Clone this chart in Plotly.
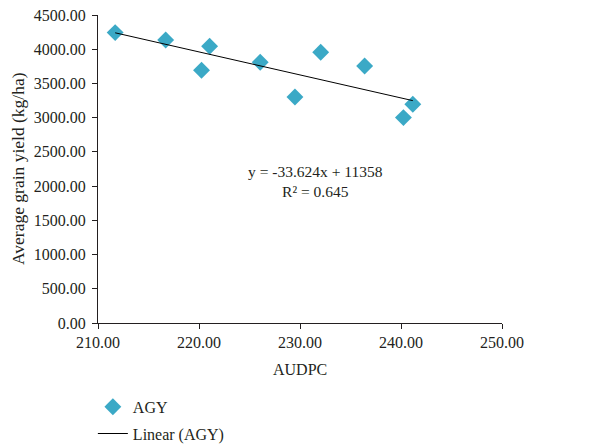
import numpy as np
import plotly.graph_objects as go

# Data
audpc = [211.7, 216.7, 220.25, 221.05, 226.06, 229.5, 232.05, 236.4, 240.24, 241.17]
agy = [4243, 4135, 3692, 4043, 3809, 3302, 3955, 3755, 3001, 3195]

slope = -33.624
intercept = 11358
r2 = 0.645

x_ticks = [210, 220, 230, 240, 250]
y_ticks = [0, 500, 1000, 1500, 2000, 2500, 3000, 3500, 4000, 4500]

FONT = "Liberation Serif"
TXT = "#231f20"

xl = [min(audpc), max(audpc)]
yl = [slope * v + intercept for v in xl]

fig = go.Figure()
fig.add_trace(go.Scatter(
    x=audpc, y=agy, mode="markers", name="AGY", legendgroup="a",
    marker=dict(symbol="diamond", size=13, color="#3ba9c6", line=dict(width=0)),
))
fig.add_trace(go.Scatter(
    x=xl, y=yl, mode="lines", name="Linear (AGY)", legendgroup="b",
    line=dict(color="black", width=1),
))

fig.add_annotation(
    x=231.5, y=2070, xref="x", yref="y",
    text=f"y = {slope}x + {intercept}<br>R² = {r2}",
    showarrow=False, align="center",
    font=dict(family=FONT, size=15.5, color=TXT),
)
# axis titles
fig.add_annotation(
    x=-0.198, y=0.5, xref="paper", yref="paper", textangle=-90,
    text="Average grain yield (kg/ha)", showarrow=False,
    xanchor="center", yanchor="middle",
    font=dict(family=FONT, size=17.5, color=TXT),
)
fig.add_annotation(
    x=0.5, y=0, xref="paper", yref="paper", yshift=-46,
    text="AUDPC", showarrow=False,
    xanchor="center", yanchor="middle",
    font=dict(family=FONT, size=16, color=TXT),
)

fig.update_layout(
    width=615, height=445,
    margin=dict(l=90, r=121, t=7, b=130, autoexpand=False),
    paper_bgcolor="white", plot_bgcolor="white",
    font=dict(family=FONT, size=16, color=TXT),
    showlegend=True,
    legend=dict(x=0.138, y=0.142, xref="container", yref="container",
                xanchor="left", yanchor="top",
                traceorder="grouped", tracegroupgap=3,
                font=dict(family=FONT, size=16, color=TXT),
                bgcolor="rgba(0,0,0,0)"),
)
fig.update_xaxes(
    range=[210, 250], tickvals=x_ticks,
    ticktext=[f"{v:.2f}" for v in x_ticks],
    showgrid=False, zeroline=False, automargin=False,
    showline=True, linecolor="#231f20", linewidth=1,
    ticks="outside", ticklen=5, tickcolor="#231f20",
    ticklabeloverflow="allow",
    tickfont=dict(family=FONT, size=16, color=TXT),
)
fig.update_yaxes(
    range=[0, 4500], tickvals=y_ticks,
    ticktext=[f"{v:.2f}" for v in y_ticks],
    showgrid=False, zeroline=False, automargin=False,
    showline=True, linecolor="#231f20", linewidth=1,
    ticks="outside", ticklen=5, tickcolor="#231f20", ticklabelstandoff=3,
    ticklabeloverflow="allow",
    tickfont=dict(family=FONT, size=16, color=TXT),
)

fig.write_html("out.html")
